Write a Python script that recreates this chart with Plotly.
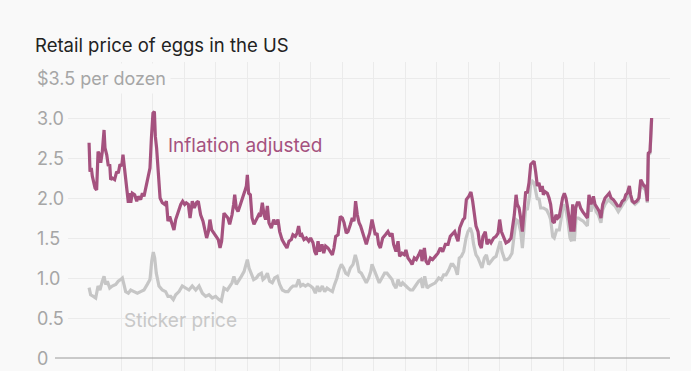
import plotly.graph_objects as go

# ---- data (decimal years, $ per dozen) ----
infl_year = [1979.96, 1980.02, 1980.10, 1980.17, 1980.34, 1980.44, 1980.53, 1980.63, 1980.70, 1980.80,
             1980.91, 1980.97, 1981.08, 1981.18, 1981.27, 1981.33, 1981.43, 1981.58, 1981.71, 1981.81,
             1981.92, 1982.03, 1982.11, 1982.22, 1982.34, 1982.45, 1982.53, 1982.60, 1982.70, 1982.85,
             1982.98, 1983.08, 1983.23, 1983.34, 1983.44, 1983.57, 1983.72, 1983.82, 1983.91, 1984.01,
             1984.10, 1984.16, 1984.24, 1984.33, 1984.46, 1984.60, 1984.75, 1984.86, 1984.96, 1985.07,
             1985.19, 1985.34, 1985.45, 1985.60, 1985.77, 1985.89, 1986.02, 1986.12, 1986.25, 1986.36,
             1986.50, 1986.63, 1986.76, 1986.88, 1987.03, 1987.18, 1987.31, 1987.41, 1987.52, 1987.62,
             1987.73, 1987.88, 1988.03, 1988.15, 1988.26, 1988.36, 1988.51, 1988.68,
             1988.76, 1988.87, 1989.02, 1989.12, 1989.19, 1989.29, 1989.40, 1989.55, 1989.67, 1989.82,
             1989.93, 1989.99, 1990.07, 1990.18, 1990.29, 1990.41, 1990.56, 1990.71, 1990.81, 1990.94,
             1991.05, 1991.15, 1991.26, 1991.36, 1991.51, 1991.66, 1991.79, 1991.93, 1992.04, 1992.19,
             1992.36, 1992.50, 1992.63, 1992.78, 1992.88, 1993.03, 1993.14, 1993.24, 1993.35, 1993.45,
             1993.58, 1993.73, 1993.88, 1994.00, 1994.15, 1994.26, 1994.36, 1994.47, 1994.57, 1994.72,
             1994.83, 1994.95, 1995.10, 1995.25, 1995.38, 1995.48, 1995.59, 1995.74, 1995.88, 1996.01,
             1996.12, 1996.26, 1996.37, 1996.52, 1996.64, 1996.75, 1996.85, 1996.96, 1997.07, 1997.17,
             1997.28, 1997.42, 1997.53, 1997.64, 1997.74,
             1997.89, 1998.00, 1998.10, 1998.21, 1998.31, 1998.42, 1998.57, 1998.74, 1998.90, 1999.05,
             1999.16, 1999.26, 1999.41, 1999.54, 1999.64, 1999.79, 1999.94, 2000.04, 2000.17, 2000.32,
             2000.43, 2000.57, 2000.70, 2000.85, 2000.99, 2001.06, 2001.21, 2001.31, 2001.44, 2001.59,
             2001.73, 2001.90, 2002.07, 2002.22, 2002.37, 2002.54, 2002.71, 2002.85, 2003.00, 2003.13,
             2003.23, 2003.34, 2003.45, 2003.55, 2003.66, 2003.76, 2003.87, 2004.02, 2004.16, 2004.27,
             2004.38, 2004.48, 2004.61, 2004.71, 2004.82, 2004.92, 2005.07, 2005.18, 2005.28, 2005.43,
             2005.60, 2005.75, 2005.88, 2005.98, 2006.09, 2006.23, 2006.38, 2006.55, 2006.70,
             2006.91, 2007.02, 2007.10, 2007.21, 2007.31, 2007.42, 2007.52, 2007.63, 2007.73, 2007.84,
             2007.95, 2008.05, 2008.16, 2008.26, 2008.37, 2008.47, 2008.58, 2008.68, 2008.75, 2008.85,
             2009.00, 2009.11, 2009.21, 2009.34, 2009.44, 2009.55, 2009.66, 2009.76, 2009.87, 2009.97,
             2010.08, 2010.18, 2010.29, 2010.40, 2010.50, 2010.61, 2010.69, 2010.80, 2010.90, 2011.01,
             2011.11, 2011.24, 2011.39, 2011.54, 2011.64, 2011.77, 2011.92, 2012.02, 2012.17, 2012.30,
             2012.40, 2012.51, 2012.66, 2012.80, 2012.93, 2013.04, 2013.18, 2013.33, 2013.46, 2013.61,
             2013.75, 2013.88, 2013.97, 2014.07, 2014.20, 2014.28, 2014.39, 2014.51, 2014.66, 2014.81,
             2014.92, 2015.02, 2015.13, 2015.23, 2015.34, 2015.40, 2015.51, 2015.61]
infl_price = [2.69, 2.33, 2.375, 2.27, 2.125, 2.10, 2.58, 2.54, 2.44, 2.58,
              2.85, 2.625, 2.54, 2.40, 2.42, 2.23, 2.25, 2.23, 2.33, 2.31,
              2.42, 2.40, 2.54, 2.35, 2.10, 1.94, 2.06, 1.94, 2.06, 2.04,
              1.96, 2.02, 1.98, 2.06, 2.02, 2.15, 2.25, 2.375, 2.75, 3.06,
              3.08, 2.77, 2.625, 2.33, 2.00, 1.94, 1.92, 1.96, 1.71, 1.77,
              1.69, 1.60, 1.73, 1.83, 1.92, 1.96, 1.92, 1.94, 1.92, 1.75,
              1.96, 1.875, 1.94, 1.96, 1.79, 1.71, 1.60, 1.50, 1.58, 1.73,
              1.60, 1.56, 1.52, 1.48, 1.375, 1.46, 1.81, 1.77,
              1.75, 1.67, 1.79, 1.92, 2.04, 1.875, 1.83, 1.92, 1.98, 2.08,
              2.15, 2.29, 2.06, 2.04, 1.75, 1.67, 1.73, 1.79, 1.77, 1.94,
              1.79, 1.73, 1.90, 1.69, 1.625, 1.73, 1.67, 1.73, 1.58, 1.48,
              1.42, 1.375, 1.46, 1.48, 1.54, 1.52, 1.56, 1.65, 1.52, 1.54,
              1.48, 1.50, 1.46, 1.50, 1.44, 1.33, 1.29, 1.46, 1.33, 1.42,
              1.31, 1.40, 1.375, 1.33, 1.29, 1.375, 1.52, 1.54, 1.77, 1.75,
              1.69, 1.56, 1.58, 1.67, 1.75, 1.71, 1.96, 1.79, 1.69, 1.65,
              1.58, 1.50, 1.42, 1.50, 1.56,
              1.73, 1.65, 1.54, 1.56, 1.42, 1.375, 1.50, 1.54, 1.58, 1.52,
              1.56, 1.42, 1.33, 1.46, 1.27, 1.31, 1.29, 1.35, 1.25, 1.21,
              1.17, 1.25, 1.23, 1.29, 1.35, 1.21, 1.375, 1.21, 1.17, 1.25,
              1.23, 1.27, 1.31, 1.375, 1.33, 1.42, 1.42, 1.52, 1.56, 1.58,
              1.52, 1.46, 1.625, 1.67, 1.73, 1.75, 1.98, 2.02, 2.075, 1.96,
              1.75, 1.65, 1.58, 1.42, 1.375, 1.52, 1.58, 1.42, 1.48, 1.44,
              1.50, 1.52, 1.56, 1.73, 1.58, 1.50, 1.44, 1.46, 1.50,
              1.79, 2.04, 1.92, 1.875, 1.75, 1.58, 1.83, 2.08, 2.06, 2.19,
              2.42, 2.44, 2.46, 2.33, 2.15, 2.19, 2.08, 2.15, 2.04, 2.08,
              2.06, 2.00, 1.92, 1.71, 1.69, 1.79, 1.75, 1.77, 1.90, 2.00,
              2.06, 2.00, 1.875, 1.73, 1.58, 1.92, 1.58, 1.875, 1.94, 1.94,
              1.875, 1.83, 1.79, 1.75, 2.04, 1.92, 2.02, 1.92, 1.875, 1.83,
              1.75, 1.92, 2.00, 2.04, 2.06, 2.00, 1.98, 1.94, 1.90, 1.90,
              1.96, 1.98, 2.04, 2.06, 2.15, 2.04, 1.96, 1.94, 1.96, 2.00,
              2.23, 2.19, 2.15, 2.15, 1.96, 2.56, 2.58, 3.00]

sticker_year = [1979.96, 1980.06, 1980.23, 1980.38, 1980.53, 1980.65, 1980.80, 1980.91, 1981.01, 1981.12,
                1981.27, 1981.43, 1981.65, 1981.81, 1981.96, 1982.07, 1982.17, 1982.28, 1982.45, 1982.60,
                1982.81, 1983.02, 1983.23, 1983.44, 1983.65, 1983.82, 1983.93, 1984.03, 1984.12, 1984.22,
                1984.39, 1984.60, 1984.81, 1984.96, 1985.13, 1985.30, 1985.45, 1985.66, 1985.87, 1986.08,
                1986.29, 1986.50, 1986.72, 1986.93, 1987.14, 1987.35, 1987.56, 1987.77, 1987.98, 1988.19,
                1988.34, 1988.51, 1988.72,
                1989.02, 1989.14, 1989.29, 1989.44, 1989.61, 1989.78, 1989.93, 1989.99, 1990.10, 1990.24,
                1990.39, 1990.56, 1990.71, 1990.88, 1990.98, 1991.09, 1991.26, 1991.40, 1991.57, 1991.72,
                1991.89, 1992.04, 1992.21, 1992.40, 1992.57, 1992.74, 1992.88, 1993.09, 1993.24, 1993.37,
                1993.52, 1993.67, 1993.83, 1994.00, 1994.15, 1994.30, 1994.43, 1994.57, 1994.74, 1994.89,
                1995.04, 1995.21, 1995.38, 1995.52, 1995.67, 1995.80, 1995.95, 1996.09, 1996.22, 1996.37,
                1996.52, 1996.69, 1996.83, 1996.94, 1997.07, 1997.21, 1997.38, 1997.53, 1997.68, 1997.81,
                1997.89, 1998.06, 1998.21, 1998.35, 1998.52, 1998.69, 1998.84, 1998.99, 1999.16, 1999.26,
                1999.41, 1999.54, 1999.69, 1999.83, 2000.00, 2000.17, 2000.32, 2000.47, 2000.64, 2000.85,
                2000.99, 2001.10, 2001.23, 2001.38, 2001.52, 2001.69, 2001.90, 2002.12, 2002.28, 2002.43,
                2002.58, 2002.75, 2002.90, 2003.02, 2003.17, 2003.30, 2003.42, 2003.55, 2003.70, 2003.85,
                2003.97, 2004.12, 2004.23, 2004.33, 2004.48, 2004.61, 2004.76, 2004.86, 2005.01, 2005.14,
                2005.28, 2005.43, 2005.60, 2005.75, 2005.92, 2006.02, 2006.13, 2006.30, 2006.45, 2006.59,
                2006.76,
                2006.91, 2007.02, 2007.16, 2007.31, 2007.42, 2007.52, 2007.63, 2007.73, 2007.84, 2007.95,
                2008.05, 2008.16, 2008.26, 2008.37, 2008.47, 2008.58, 2008.75, 2008.96, 2009.11, 2009.21,
                2009.34, 2009.44, 2009.59, 2009.76, 2009.87, 2010.02, 2010.18, 2010.29, 2010.44, 2010.54,
                2010.65, 2010.71, 2010.82, 2010.97, 2011.11, 2011.28, 2011.54, 2011.64, 2011.77, 2011.92,
                2012.09, 2012.23, 2012.40, 2012.51, 2012.66, 2012.87, 2013.08, 2013.29, 2013.50, 2013.71,
                2013.92, 2014.07, 2014.20, 2014.35, 2014.56, 2014.77, 2014.92, 2015.09, 2015.23, 2015.34,
                2015.40, 2015.51, 2015.61]
sticker_price = [0.88, 0.79, 0.77, 0.75, 0.90, 0.85, 0.96, 1.02, 0.92, 0.96,
                 0.875, 0.90, 0.92, 0.96, 0.98, 1.00, 0.92, 0.83, 0.81, 0.85,
                 0.83, 0.81, 0.83, 0.85, 0.92, 0.98, 1.21, 1.325, 1.25, 1.06,
                 0.90, 0.85, 0.83, 0.77, 0.77, 0.73, 0.79, 0.83, 0.90, 0.875,
                 0.85, 0.90, 0.85, 0.90, 0.81, 0.77, 0.79, 0.75, 0.77, 0.73,
                 0.71, 0.875, 0.85,
                 0.94, 1.02, 0.92, 0.96, 1.02, 1.08, 1.17, 1.23, 1.125, 1.06,
                 0.98, 1.00, 1.04, 1.06, 0.98, 1.00, 1.06, 0.96, 0.94, 1.00,
                 1.02, 0.92, 0.85, 0.83, 0.83, 0.875, 0.90, 0.90, 0.98, 0.90,
                 0.92, 0.90, 0.92, 0.90, 0.875, 0.81, 0.90, 0.83, 0.90, 0.83,
                 0.875, 0.85, 0.83, 0.92, 1.00, 1.10, 1.17, 1.125, 1.06, 1.04,
                 1.125, 1.17, 1.29, 1.21, 1.08, 1.06, 1.00, 0.94, 1.00, 1.08,
                 1.17, 1.08, 1.00, 0.94, 1.00, 1.06, 1.06, 1.02, 0.98, 0.92,
                 0.875, 0.98, 0.90, 0.94, 0.90, 0.875, 0.85, 0.85, 0.90, 0.96,
                 0.98, 0.875, 1.02, 0.875, 0.90, 0.92, 0.94, 1.00, 0.98, 1.04,
                 1.04, 1.10, 1.17, 1.17, 1.125, 1.04, 1.25, 1.27, 1.33, 1.50,
                 1.58, 1.625, 1.56, 1.42, 1.29, 1.25, 1.17, 1.125, 1.25, 1.29,
                 1.17, 1.21, 1.25, 1.27, 1.375, 1.46, 1.33, 1.23, 1.23, 1.25,
                 1.31,
                 1.58, 1.73, 1.71, 1.58, 1.375, 1.58, 1.875, 1.85, 1.98, 2.17,
                 2.21, 2.19, 2.08, 1.98, 2.00, 1.875, 1.875, 1.85, 1.79, 1.73,
                 1.52, 1.50, 1.60, 1.60, 1.73, 1.92, 1.85, 1.73, 1.50, 1.46,
                 1.79, 1.46, 1.75, 1.75, 1.73, 1.71, 1.65, 1.96, 1.83, 1.96,
                 1.83, 1.79, 1.69, 1.85, 1.92, 1.98, 1.94, 1.90, 1.83, 1.90,
                 1.96, 2.00, 2.10, 1.96, 1.92, 1.96, 2.19, 2.125, 2.10, 1.94,
                 2.54, 2.56, 2.98]

grid_years = [1982, 1984, 1986, 1988, 1990, 1992, 1994, 1996, 1998, 2000,
              2002, 2004, 2006, 2008, 2010, 2012, 2014]
y_ticks = [0, 0.5, 1.0, 1.5, 2.0, 2.5, 3.0, 3.5]
y_tick_labels = ["0", "0.5", "1.0", "1.5", "2.0", "2.5", "3.0", "$3.5 per dozen"]

title_text = "Retail price of eggs in the US"
infl_label = "Inflation adjusted"
sticker_label = "Sticker price"

PURPLE = "#a5527f"
GRAY = "#c6c6c6"
BG = "#f9f9f9"
FONT = "Inter, Roboto, sans-serif"

fig = go.Figure()
fig.add_trace(go.Scatter(x=sticker_year, y=sticker_price, mode="lines",
                         line=dict(color=GRAY, width=3.2), hoverinfo="skip"))
fig.add_trace(go.Scatter(x=infl_year, y=infl_price, mode="lines",
                         line=dict(color=PURPLE, width=3.2), hoverinfo="skip"))

# baseline at zero
fig.add_shape(type="line", xref="paper", yref="y", x0=-0.0216, x1=1, y0=0, y1=0,
              line=dict(color="#9a9a9a", width=1), layer="above")

# y tick labels (left aligned)
for v, lab in zip(y_ticks, y_tick_labels):
    fig.add_annotation(x=-0.0598, xref="paper", y=v, yref="y", text=lab, showarrow=False,
                       xanchor="left", yanchor="middle",
                       font=dict(family=FONT, size=18, color="#a6a6a6"),
                       bgcolor=BG if v == 3.5 else None, borderpad=4)

fig.add_annotation(x=-0.0583, xref="paper", y=1.055, yref="paper", text=title_text,
                   showarrow=False, xanchor="left", yanchor="middle",
                   font=dict(family=FONT, size=18.5, color="#222222"))
fig.add_annotation(x=1984.84, y=2.66, text=infl_label, showarrow=False,
                   xanchor="left", yanchor="middle",
                   font=dict(family=FONT, size=19, color=PURPLE))
fig.add_annotation(x=1982.05, y=0.475, text=sticker_label, showarrow=False,
                   xanchor="left", yanchor="middle",
                   font=dict(family=FONT, size=19, color="#c8c8c8"))

fig.update_layout(
    width=691, height=371,
    margin=dict(l=68, r=21, t=62, b=0),
    paper_bgcolor=BG, plot_bgcolor=BG,
    showlegend=False,
    hovermode=False,
    xaxis=dict(range=[1978.625, 2016.775], tickvals=grid_years, showticklabels=False,
               showgrid=True, gridcolor="#ebebeb", gridwidth=1, zeroline=False,
               showline=False, ticks="", fixedrange=True),
    yaxis=dict(range=[-0.1625, 3.7], tickvals=y_ticks[1:], showticklabels=False,
               showgrid=True, gridcolor="#ebebeb", gridwidth=1, zeroline=False,
               showline=False, ticks="", fixedrange=True),
)

fig.write_html("out.html", config={"displayModeBar": False})

# remove the browser's default page margin so the figure sits at the window's corner
with open("out.html", "r", encoding="utf-8") as f:
    html = f.read()
html = html.replace("<head>", "<head><style>html,body{margin:0;padding:0;background:#f9f9f9;overflow:hidden;}</style>", 1)
with open("out.html", "w", encoding="utf-8") as f:
    f.write(html)
